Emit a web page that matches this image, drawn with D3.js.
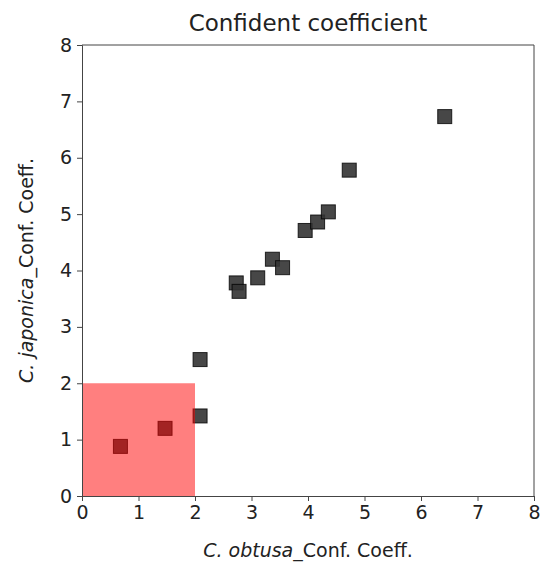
<!DOCTYPE html>
<html>
<head>
<meta charset="utf-8">
<script src="https://cdn.jsdelivr.net/npm/d3@7"></script>
<style>
  body { margin: 0; background: #fff; }
  text { font-family: "DejaVu Sans", sans-serif; fill: #222; }
</style>
</head>
<body>
<svg id="chart" width="542" height="570"></svg>
<script>
const obtusa = [0.68, 1.47, 2.09, 2.09, 2.73, 2.78, 3.11, 3.37, 3.55, 3.95, 4.17, 4.36, 4.73, 6.42];
const japonica = [0.88, 1.20, 1.42, 2.42, 3.78, 3.63, 3.87, 4.20, 4.05, 4.71, 4.86, 5.04, 5.78, 6.73];
const ticks = [0, 1, 2, 3, 4, 5, 6, 7, 8];
const highlight = { x0: 0, x1: 2, y0: 0, y1: 2 };

const svg = d3.select('#chart');
const margin = { top: 45, left: 82 };
const plotW = 452;
const plotH = 451;

const x = d3.scaleLinear().domain([0, 8]).range([0, plotW]);
const y = d3.scaleLinear().domain([0, 8]).range([plotH, 0]);

const g = svg.append('g').attr('transform', `translate(${margin.left},${margin.top})`);

const size = 14;
g.selectAll('.pt')
    .data(obtusa)
    .enter()
    .append('rect')
    .attr('class', 'pt')
    .attr('x', (d) => x(d) - size / 2)
    .attr('y', (d, i) => y(japonica[i]) - size / 2)
    .attr('width', size)
    .attr('height', size)
    .attr('fill', '#333')
    .attr('fill-opacity', 0.9)
    .attr('stroke', '#000')
    .attr('stroke-opacity', 0.8)
    .attr('stroke-width', 1);

// red region on top
g.append('rect')
    .attr('x', x(highlight.x0))
    .attr('y', y(highlight.y1))
    .attr('width', x(highlight.x1) - x(highlight.x0))
    .attr('height', y(highlight.y0) - y(highlight.y1))
    .attr('fill', 'red')
    .attr('fill-opacity', 0.5);

const xAxis = g.append('g')
    .attr('transform', `translate(0,${plotH})`)
    .call(d3.axisBottom(x).tickValues(ticks).tickFormat(d3.format('d')).tickSize(5).tickPadding(5));
const yAxis = g.append('g')
    .call(d3.axisLeft(y).tickValues(ticks).tickFormat(d3.format('d')).tickSize(5).tickPadding(5));

[xAxis, yAxis].forEach(a => {
    a.selectAll('text').style('font-size', '19px').attr('fill', '#222');
    a.selectAll('line').attr('stroke', '#444');
    a.select('.domain').attr('stroke', '#444');
});

// top and right spines
g.append('line').attr('x1', 0).attr('x2', plotW).attr('y1', 0).attr('y2', 0).attr('stroke', '#444');
g.append('line').attr('x1', plotW).attr('x2', plotW).attr('y1', 0).attr('y2', plotH).attr('stroke', '#444');

svg.append('text')
    .attr('x', margin.left + plotW / 2)
    .attr('y', 31)
    .attr('text-anchor', 'middle')
    .style('font-size', '23px')
    .text('Confident coefficient');

const xl = svg.append('text')
    .attr('x', margin.left + plotW / 2)
    .attr('y', 557)
    .attr('text-anchor', 'middle')
    .style('font-size', '19px');
xl.append('tspan').style('font-style', 'italic').text('C. obtusa');
xl.append('tspan').text('_Conf. Coeff.');

const yl = svg.append('text')
    .attr('transform', `translate(33,${margin.top + plotH / 2}) rotate(-90)`)
    .attr('text-anchor', 'middle')
    .style('font-size', '19px');
yl.append('tspan').style('font-style', 'italic').text('C. japonica');
yl.append('tspan').text('_Conf. Coeff.');
</script>
</body>
</html>
